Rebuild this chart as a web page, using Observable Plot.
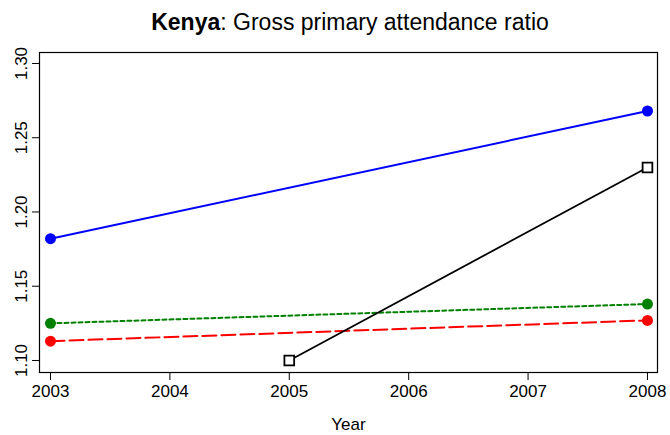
<!DOCTYPE html>
<html>
<head>
<meta charset="utf-8">
<script src="https://cdn.jsdelivr.net/npm/d3@7"></script>
<script src="https://cdn.jsdelivr.net/npm/@observablehq/plot@0.6"></script>
<style>
  body { margin: 0; background: #fff; font-family: "Liberation Sans", Arial, sans-serif; }
  #title { width: 670px; height: 40px; position: relative; }
  #title span { position: absolute; left: 350px; top: 8px; transform: translateX(-50%); font-size: 23px; line-height: 28px; white-space: nowrap; color: #000; }
</style>
</head>
<body>
<div id="title"><span><b>Kenya</b>: Gross primary attendance ratio</span></div>
<div id="chart"></div>
<script>
// Data
const yearsMain = [2003, 2008];
const blueValues = [1.182, 1.268];
const greenValues = [1.125, 1.138];
const redValues = [1.113, 1.127];
const yearsBlack = [2005, 2008];
const blackValues = [1.100, 1.230];
const xTicks = [2003, 2004, 2005, 2006, 2007, 2008];
const yTicks = [1.10, 1.15, 1.20, 1.25, 1.30];

const toRows = (xs, ys) => xs.map((x, i) => ({year: x, value: ys[i]}));
const blue = toRows(yearsMain, blueValues);
const green = toRows(yearsMain, greenValues);
const red = toRows(yearsMain, redValues);
const black = toRows(yearsBlack, blackValues);
const fmt = d3.format(".2f");

const chart = Plot.plot({
  width: 670,
  height: 395,
  marginTop: 12,
  marginBottom: 63,
  marginLeft: 39,
  marginRight: 13,
  style: {fontFamily: "'Liberation Sans', Arial, sans-serif", fontSize: "17px", color: "#000", background: "#fff"},
  x: {domain: [2002.908, 2008.084]},
  y: {domain: [1.0919, 1.3074]},
  marks: [
    Plot.frame({stroke: "#000", strokeWidth: 1.2}),
    Plot.axisX({ticks: xTicks, tickFormat: d => String(d), tickSize: 8, tickPadding: 4, label: null, stroke: "#000", fontSize: 17}),
    Plot.text(["Year"], {frameAnchor: "bottom", dy: 57, fontSize: 17, fill: "#000"}),
    Plot.axisY({ticks: yTicks, tickFormat: null, text: null, tickSize: 7, label: null, stroke: "#000"}),
    Plot.text(yTicks, {y: d => d, text: fmt, frameAnchor: "left", dx: -13, rotate: -90, textAnchor: "middle", lineAnchor: "bottom", fontSize: 17, fill: "#000"}),
    Plot.line(red, {x: "year", y: "value", stroke: "#ff0000", strokeWidth: 2, strokeDasharray: "14,5"}),
    Plot.line(green, {x: "year", y: "value", stroke: "#008000", strokeWidth: 2, strokeDasharray: "4,3"}),
    Plot.line(blue, {x: "year", y: "value", stroke: "#0000ff", strokeWidth: 2}),
    Plot.line(black, {x: "year", y: "value", stroke: "#000", strokeWidth: 1.8}),
    Plot.dot(red, {x: "year", y: "value", fill: "#ff0000", r: 5.5}),
    Plot.dot(green, {x: "year", y: "value", fill: "#008000", r: 5.5}),
    Plot.dot(blue, {x: "year", y: "value", fill: "#0000ff", r: 5.5}),
    Plot.dot(black, {x: "year", y: "value", symbol: "square", fill: "#fff", stroke: "#000", strokeWidth: 1.8, r: 5.5})
  ]
});
document.getElementById("chart").appendChild(chart);
</script>
</body>
</html>
